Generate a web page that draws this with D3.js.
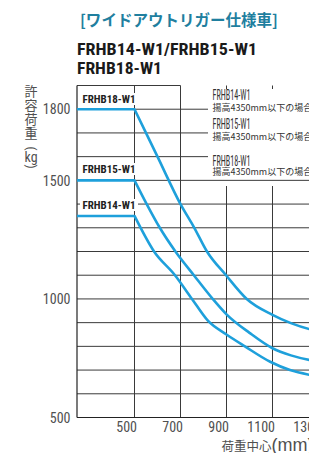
<!DOCTYPE html>
<html><head><meta charset="utf-8">
<script src="https://cdn.jsdelivr.net/npm/d3@7"></script>
<style>html,body{margin:0;padding:0;background:#fff;overflow:hidden}</style>
</head><body><svg id="c" width="309" height="453"></svg>
<script>
// ---- data ----
const xTickValues = [500, 700, 900, 1100, 1300];
const yTickValues = [500, 1000, 1500, 1800];
const xGridValues = [500, 700, 900, 1100, 1300];
const yGridValues = [500, 600, 700, 800, 900, 1000, 1100, 1200, 1300, 1400, 1500, 1600, 1700, 1800, 1900];
const seriesNames = ["FRHB14-W1", "FRHB15-W1", "FRHB18-W1"];
const ratedLoads = [1350, 1500, 1800];
const flatStart = [250, 250, 250];
const flatEnd = [500, 500, 500];
const center14 = [500, 585, 676, 750, 820, 900, 980, 1090, 1176, 1260, 1320];
const load14   = [1350, 1200, 1100, 1000, 907, 850, 800, 735, 700, 680, 670];
const center15 = [500, 553, 610, 678, 758, 840, 900, 1000, 1100, 1180, 1260, 1320];
const load15   = [1500, 1400, 1300, 1200, 1100, 1000, 935, 857, 792, 762, 743, 734];
const center18 = [500, 600, 700, 760, 815, 898, 988, 1100, 1180, 1260, 1320];
const load18   = [1800, 1600, 1400, 1300, 1200, 1100, 1000, 933, 898, 873, 861];
const legendNote = "揚高4350mm以下の場合";
const titleText = "[ワイドアウトリガー仕様車]";
const modelLine1 = "FRHB14-W1/FRHB15-W1";
const modelLine2 = "FRHB18-W1";
const yTitleChars = ["許", "容", "荷", "重"];
const yTitleUnit = "kg";
const xTitleMain = "荷重中心";
const xTitleUnit = "(mm)";

// ---- layout ----
const svg = d3.select("#c");
const L = 77, B = 417.5, T = 85.5;
const x = d3.scaleLinear().domain([250, 1400]).range([L, L + 1150 * 0.23]);
const y = d3.scaleLinear().domain([500, 1900]).range([B, T]);
const numFont = "'Liberation Sans Narrow','Roboto Condensed','DejaVu Sans Condensed',sans-serif";
const cjkFont = "'Noto Sans CJK JP','Noto Sans',sans-serif";
const blue = "#1ea0db";
const gridCol = "#3a3a3a";
const labelGray = "#505050";

// title
svg.append("text").attr("x", 80).attr("y", 26).attr("font-family", cjkFont)
  .attr("font-size", 15.5).attr("font-weight", 700).attr("fill", "#1f7f9f")
  .attr("textLength", 198).attr("lengthAdjust", "spacingAndGlyphs").text(titleText);
svg.append("text").attr("x", 77).attr("y", 55).attr("font-family", numFont)
  .attr("font-size", 17).attr("font-weight", 700).attr("fill", "#1a1a1a")
  .attr("textLength", 180).attr("lengthAdjust", "spacingAndGlyphs").text(modelLine1);
svg.append("text").attr("x", 77).attr("y", 74).attr("font-family", numFont)
  .attr("font-size", 17).attr("font-weight", 700).attr("fill", "#1a1a1a")
  .attr("textLength", 85).attr("lengthAdjust", "spacingAndGlyphs").text(modelLine2);

// vertical grid
const g = svg.append("g");
g.selectAll("line.v").data(xGridValues).join("line")
  .attr("x1", d => x(d)).attr("x2", d => x(d)).attr("y1", T).attr("y2", B)
  .attr("stroke", gridCol).attr("stroke-width", 1);
// legend white box
g.append("rect").attr("x", 209).attr("y", 89).attr("width", 110).attr("height", 97).attr("fill", "#fff");
// horizontal grid
g.selectAll("line.h").data(yGridValues).join("line")
  .attr("x1", L).attr("x2", d => d === 1900 ? x(700) : (d >= 1600 ? 208 : 309))
  .attr("y1", d => y(d)).attr("y2", d => y(d))
  .attr("stroke", gridCol).attr("stroke-width", 1);
// left axis line
g.append("line").attr("x1", L).attr("x2", L).attr("y1", T).attr("y2", B)
  .attr("stroke", "#222").attr("stroke-width", 1.2);

// series label backgrounds + labels
const labelBase = [209, 173, 103];
seriesNames.forEach((n, i) => {
  g.append("rect").attr("x", 80).attr("y", labelBase[i] - 10).attr("width", 58).attr("height", 12).attr("fill", "#fff");
  g.append("text").attr("x", 82.5).attr("y", labelBase[i]).attr("font-family", numFont)
    .attr("font-size", 11.5).attr("font-weight", 700).attr("fill", "#222")
    .attr("textLength", 53).attr("lengthAdjust", "spacingAndGlyphs").text(n);
});

// curves
const centers = [center14, center15, center18];
const loads = [load14, load15, load18];
const flatLine = d3.line().x(d => x(d[0])).y(d => y(d[1]));
const curveLine = d3.line().x(d => x(d[0])).y(d => y(d[1])).curve(d3.curveMonotoneX);
seriesNames.forEach((n, i) => {
  const flat = [[flatStart[i], ratedLoads[i]], [flatEnd[i], ratedLoads[i]]];
  const pts = centers[i].map((c, j) => [c, loads[i][j]]);
  g.append("path").attr("d", flatLine(flat) + curveLine(pts).replace(/^M/, "L"))
    .attr("fill", "none").attr("stroke", blue).attr("stroke-width", 2.6)
    .attr("stroke-linejoin", "round");
});

// legend texts
const legendBase = [100, 129, 166];
const noteBase = [110.5, 140, 174.5];
const legOrder = ["FRHB14-W1", "FRHB15-W1", "FRHB18-W1"];
legOrder.forEach((n, i) => {
  svg.append("text").attr("x", 212.5).attr("y", legendBase[i]).attr("font-family", numFont)
    .attr("font-size", 14).attr("fill", "#333").attr("textLength", 38)
    .attr("lengthAdjust", "spacingAndGlyphs").text(n);
  svg.append("text").attr("x", 212.5).attr("y", noteBase[i]).attr("font-family", cjkFont)
    .attr("font-size", 9).attr("fill", "#333").text(legendNote);
});

// x axis
g.append("line").attr("x1", L).attr("x2", 309).attr("y1", B).attr("y2", B)
  .attr("stroke", "#222").attr("stroke-width", 1.2);
const xa = svg.append("g").attr("transform", `translate(0,${B})`)
  .call(d3.axisBottom(x).tickValues(xTickValues).tickSize(0).tickFormat(d3.format("d")));
xa.select(".domain").remove();
xa.selectAll("text").attr("y", 14.5).attr("dy", 0).attr("x", 2).attr("text-anchor", "end")
  .attr("font-family", numFont).attr("font-size", 14).attr("fill", labelGray);

// y axis
const ya = svg.append("g").attr("transform", `translate(${L},0)`)
  .call(d3.axisLeft(y).tickValues(yTickValues).tickSize(0).tickFormat(d3.format("d")));
ya.select(".domain").remove();
ya.selectAll("text").attr("x", -6.5).attr("dy", "0.34em").attr("font-family", numFont)
  .attr("font-size", 14).attr("fill", labelGray);

// y title (vertical)
const yTitleY = [96, 110, 124, 138];
yTitleChars.forEach((c, i) => {
  svg.append("text").attr("x", 31).attr("y", yTitleY[i]).attr("text-anchor", "middle")
    .attr("font-family", cjkFont).attr("font-size", 13).attr("fill", labelGray).text(c);
});
svg.append("text").attr("transform", "translate(31,148.5) rotate(90)").attr("text-anchor", "middle")
  .attr("dy", "0.32em").attr("font-family", numFont).attr("font-size", 13).attr("fill", labelGray).text("(");
svg.append("text").attr("x", 31).attr("y", 161.5).attr("text-anchor", "middle")
  .attr("font-family", numFont).attr("font-size", 14).attr("fill", labelGray).text(yTitleUnit);
svg.append("text").attr("transform", "translate(31,166.5) rotate(90)").attr("text-anchor", "middle")
  .attr("dy", "0.32em").attr("font-family", numFont).attr("font-size", 13).attr("fill", labelGray).text(")");

// x title
const xt = svg.append("text").attr("x", 221.5).attr("y", 451).attr("font-family", cjkFont)
  .attr("font-size", 12.5).attr("fill", labelGray);
xt.append("tspan").text(xTitleMain);
xt.append("tspan").attr("font-family", "'Liberation Sans',Arial,sans-serif").attr("font-size", 18).text(xTitleUnit);
</script></body></html>
